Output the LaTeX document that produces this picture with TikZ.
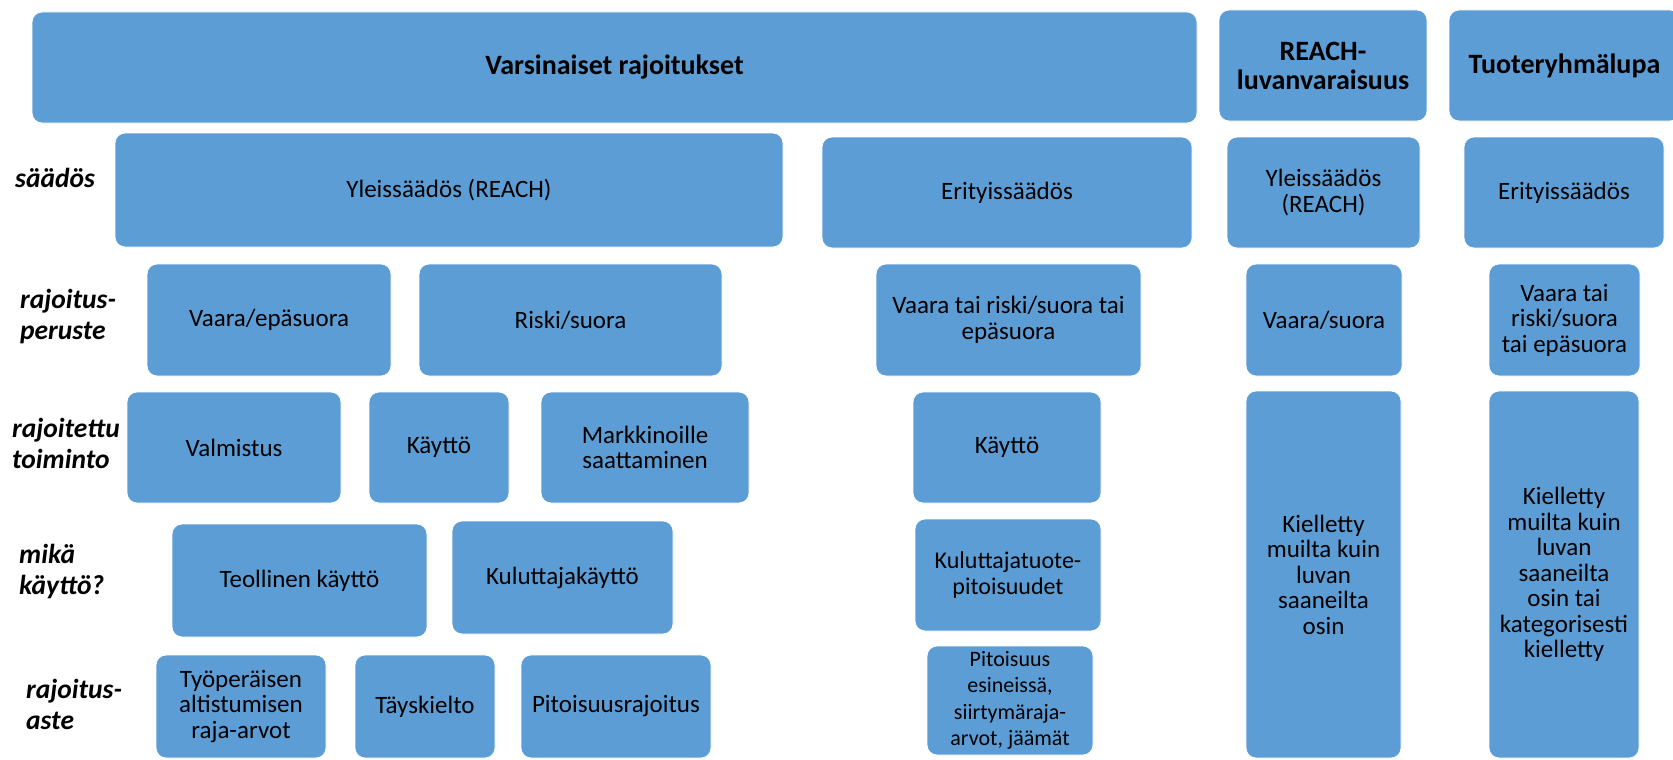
\documentclass[tikz,border=0pt]{standalone}
\usepackage{fontspec}
\setmainfont{Carlito}
\definecolor{sininen}{HTML}{5D9DD5}
\tikzset{
  lohko/.style={shape=rectangle, rounded corners=10pt, fill=sininen, draw=white, line width=0.8pt,
    inner sep=2pt, align=center, font=\fontsize{25}{25.5}\selectfont},
  otsikko/.style={lohko, font=\fontsize{28}{29}\selectfont\bfseries},
  taso/.style={anchor=west, align=left, inner sep=0pt, font=\fontsize{27.5}{31}\selectfont\bfseries\itshape},
}

\begin{document}
\begin{tikzpicture}[x=1pt,y=-1pt]
    \useasboundingbox (0,0) rectangle (1673,760);
    \clip (0,0) rectangle (1673,760);

    \node[otsikko,minimum width=1165pt,minimum height=111pt] (VR) at (614.5,67.5) {Varsinaiset rajoitukset};
    \node[otsikko,minimum width=208pt,minimum height=111pt] (RL) at (1323,65.5) {REACH-\\luvanvaraisuus};
    \node[otsikko,minimum width=231pt,minimum height=111pt] (TR) at (1564.5,65.5) {Tuoteryhmälupa};

    \node[taso] (saados) at (15,178) {säädös};
    \node[lohko,minimum width=668pt,minimum height=114pt] (Y) at (449,190) {Yleissäädös (REACH)};
    \node[lohko,minimum width=370pt,minimum height=111pt] (E) at (1007,192.5) {Erityissäädös};
    \node[lohko,minimum width=193pt,minimum height=111pt] (Y2) at (1323.5,192.5) {Yleissäädös\\(REACH)};
    \node[lohko,minimum width=200pt,minimum height=111pt] (E2) at (1564,192.5) {Erityissäädös};

    \node[taso] (peruste) at (20,317) {rajoitus-\\peruste};
    \node[lohko,minimum width=244pt,minimum height=112pt] (VE) at (269,320) {Vaara/epäsuora};
    \node[lohko,minimum width=303pt,minimum height=112pt] (RS) at (570.5,320) {Riski/suora};
    \node[lohko,minimum width=265pt,minimum height=112pt] (VT) at (1008.5,320) {Vaara tai riski/suora tai\\epäsuora};
    \node[lohko,minimum width=156pt,minimum height=112pt] (VS) at (1324,320) {Vaara/suora};
    \node[lohko,minimum width=151pt,minimum height=112pt] (VT2) at (1564.5,320) {Vaara tai\\riski/suora\\tai epäsuora};

    \node[taso] (toiminto) at (12,443) {rajoitettu\\toiminto};
    \node[lohko,minimum width=214pt,minimum height=111pt] (VA) at (234,447.5) {Valmistus};
    \node[lohko,minimum width=140pt,minimum height=111pt] (K) at (439,447.5) {Käyttö};
    \node[lohko,minimum width=208pt,minimum height=111pt] (M) at (645,447.5) {Markkinoille\\saattaminen};
    \node[lohko,minimum width=188pt,minimum height=111pt] (K2) at (1007,447.5) {Käyttö};
    \node[lohko,minimum width=155pt,minimum height=367pt] (KL) at (1323.5,574.5) {Kielletty\\muilta kuin\\luvan\\saaneilta\\osin};
    \node[lohko,minimum width=150pt,minimum height=367pt] (KL2) at (1564,574.5) {Kielletty\\muilta kuin\\luvan\\saaneilta\\osin tai\\kategorisesti\\kielletty};

    \node[taso] (kaytto) at (19,572) {mikä\\käyttö?};
    \node[lohko,minimum width=255pt,minimum height=113pt] (TK) at (299.5,580.5) {Teollinen käyttö};
    \node[lohko,minimum width=221pt,minimum height=113pt] (KK) at (562.5,577.5) {Kuluttajakäyttö};
    \node[lohko,minimum width=186pt,minimum height=112pt,font=\fontsize{24}{25.5}\selectfont] (KP) at (1008,575) {Kuluttajatuote-\\pitoisuudet};

    \node[taso] (aste) at (26,704) {rajoitus-\\aste};
    \node[lohko,minimum width=170pt,minimum height=103pt] (TA) at (241,706.5) {Työperäisen\\altistumisen\\raja-arvot};
    \node[lohko,minimum width=140pt,minimum height=103pt] (TY) at (425,706.5) {Täyskielto};
    \node[lohko,minimum width=190pt,minimum height=103pt] (PR) at (616,706.5) {Pitoisuusrajoitus};
    \node[lohko,minimum width=166pt,minimum height=109pt,font=\fontsize{22}{26.5}\selectfont] (PE) at (1010,700.5) {Pitoisuus\\esineissä,\\siirtymäraja-\\arvot, jäämät};
\end{tikzpicture}
\end{document}
